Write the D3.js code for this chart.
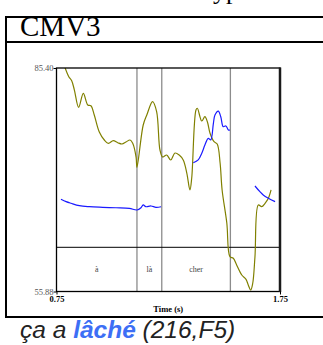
<!DOCTYPE html>
<html><head><meta charset="utf-8">
<script src="https://cdn.jsdelivr.net/npm/d3@7"></script>
<style>body{margin:0;background:#fff}svg{display:block}</style>
</head><body><svg id="c" width="323" height="345"></svg>
<script>
// ---- data ----
const intensityTimes = [0.785,0.805,0.818,0.830,0.849,0.870,0.890,0.904,0.919,0.941,0.964,0.982,1.004,1.024,1.043,1.061,1.079,1.091,1.106,1.110,1.138,1.154,1.180,1.198,1.213,1.225,1.243,1.261,1.280,1.299,1.317,1.333,1.347,1.355,1.374,1.380,1.400,1.414,1.425,1.437,1.455,1.469,1.482,1.491,1.512,1.526,1.541,1.556,1.579,1.598,1.608,1.619,1.628,1.638,1.653,1.668,1.683,1.698,1.710];
const intensityDb = [85.70,84.25,83.72,82.49,80.21,82.06,80.51,80.42,79.19,76.99,75.89,75.45,75.80,75.53,75.36,75.63,75.89,75.45,73.64,72.28,77.87,79.19,80.95,79.63,74.57,73.64,73.91,73.25,74.17,73.91,73.25,71.53,69.29,70.87,79.85,80.08,78.40,78.97,78.31,76.78,75.67,75.36,72.85,69.29,64.93,60.48,60.27,59.38,58.06,57.49,56.74,56.08,56.97,60.48,67.31,67.08,67.53,68.19,69.29];
const pitchTimes = [0.770,0.793,0.815,0.852,0.897,0.957,1.016,1.076,1.110,1.128,1.138,1.150,1.173,1.195,1.218, 1.29,
  1.362,1.384,1.400,1.414,1.429,1.440,1.452,1.459,1.474,1.485,1.496,1.508,1.519,1.526, 1.58,
  1.638,1.660,1.675,1.698,1.728];
const pitchHz = [161.9,160.3,159.2,157.6,156.9,156.5,156.2,155.8,154.7,156.2,158.1,156.9,157.4,156.5,156.9, null,
  186.4,188.3,192.8,198.3,202.8,201.7,212.9,218.5,221.1,217.3,210.6,211.1,208.4,208.4, null,
  170.8,167.0,164.8,162.6,160.3];
const tierStarts = [0.75,1.110,1.221,1.528];
const tierEnds = [1.110,1.221,1.528,1.75];
const tierLabels = ["à","là","cher",""];
const xTicks = [0.75,1.75];
const yTickLabels = ["55.88","85.40"];
const yTicks = [55.88,85.40];

// ---- chart ----
const svg = d3.select("#c");
const L=56.5,R=280,T=68,B=291.5,TIER=247.3;
const x = d3.scaleLinear([0.75,1.75],[L,R]);
const yI = d3.scaleLinear([55.88,85.40],[B,T]);
const yP = d3.scaleLinear([100,250],[B,T]);

// page frame
const frame = svg.append("g").attr("stroke","#000").attr("stroke-width",2);
frame.append("line").attr("x1",6).attr("x2",323).attr("y1",17).attr("y2",17);
frame.append("line").attr("x1",6).attr("x2",323).attr("y1",42).attr("y2",42);
frame.append("line").attr("x1",6).attr("x2",323).attr("y1",317).attr("y2",317);
frame.append("line").attr("x1",6).attr("x2",6).attr("y1",16).attr("y2",318);

svg.append("text").attr("x",213).attr("y",-1).attr("font-family","Liberation Serif").attr("font-size",26).text("yp");
svg.append("text").attr("x",20).attr("y",36).attr("font-family","Liberation Serif").attr("font-size",29).attr("fill","#000").text("CMV3");

svg.append("defs").append("clipPath").attr("id","pc").append("rect").attr("x",L).attr("y",T).attr("width",R-L).attr("height",B-T);

// tier boundaries
svg.append("g").selectAll("line").data(tierStarts.slice(1)).join("line")
  .attr("x1",d=>x(d)).attr("x2",d=>x(d)).attr("y1",T).attr("y2",B)
  .attr("stroke","#8c8c8c").attr("stroke-width",1.3);
svg.append("line").attr("x1",L).attr("x2",R).attr("y1",TIER).attr("y2",TIER).attr("stroke","#000").attr("stroke-width",1);
svg.append("g").selectAll("text").data(tierLabels).join("text")
  .attr("x",(d,i)=>x((tierStarts[i]+tierEnds[i])/2)).attr("y",272)
  .attr("text-anchor","middle").attr("font-family","Liberation Serif").attr("font-size",8).attr("fill","#444").text(d=>d);

// curves
const g = svg.append("g").attr("clip-path","url(#pc)");
g.append("path").datum(intensityTimes.map((t,i)=>[t,intensityDb[i]]))
  .attr("fill","none").attr("stroke","#808000").attr("stroke-width",1.2)
  .attr("d",d3.line().x(d=>x(d[0])).y(d=>yI(d[1])).curve(d3.curveCatmullRom));
g.append("path").datum(pitchTimes.map((t,i)=>[t,pitchHz[i]]))
  .attr("fill","none").attr("stroke","#1a1aff").attr("stroke-width",1.2)
  .attr("d",d3.line().defined(d=>d[1]!==null).x(d=>x(d[0])).y(d=>yP(d[1])).curve(d3.curveCatmullRom));

// plot frame
svg.append("rect").attr("x",L).attr("y",T).attr("width",R-L).attr("height",B-T).attr("fill","none").attr("stroke","#000").attr("stroke-width",1.3);
svg.append("line").attr("x1",R).attr("x2",R).attr("y1",T-0.5).attr("y2",B+0.5).attr("stroke","#1a1a1a").attr("stroke-width",2.5);

// axes
const ay = svg.append("g").attr("transform",`translate(${L},0)`)
  .call(d3.axisLeft(yI).tickValues(yTicks).tickSize(3).tickFormat((d,i)=>yTickLabels[i]));
ay.select(".domain").remove();
ay.selectAll("text").attr("font-family","Liberation Serif").attr("font-size",8.5).attr("fill","#555").attr("x",-3).attr("dy","0.32em");
const ax = svg.append("g").attr("transform",`translate(0,${B})`)
  .call(d3.axisBottom(x).tickValues(xTicks).tickSize(3).tickFormat(d3.format(".2f")));
ax.select(".domain").remove();
ax.selectAll("text").attr("font-family","Liberation Serif").attr("font-size",8.5).attr("font-weight","bold").attr("y",4);
svg.append("text").attr("x",(L+R)/2).attr("y",312).attr("text-anchor","middle")
  .attr("font-family","Liberation Serif").attr("font-size",8.5).attr("font-weight","bold").text("Time (s)");

// caption
const cap = svg.append("text").attr("x",20).attr("y",338).attr("font-family","Liberation Sans").attr("font-size",24.5).attr("font-style","italic").attr("fill","#222");
cap.append("tspan").text("ça a ");
cap.append("tspan").attr("font-weight","bold").attr("fill","#3d6ff5").text("lâché");
cap.append("tspan").text(" (216,F5)");
</script></body></html>
